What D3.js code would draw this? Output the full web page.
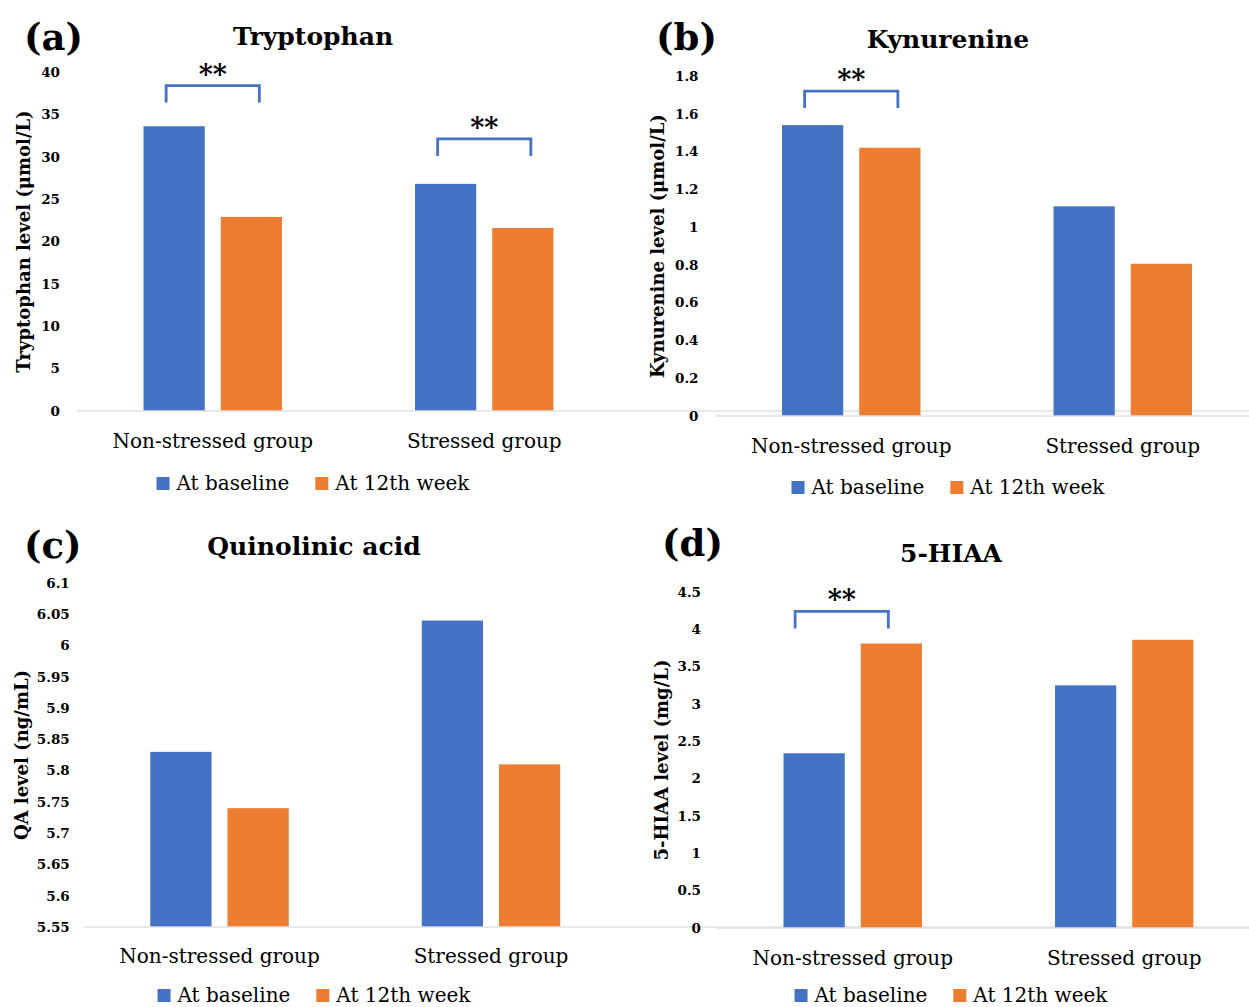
<!DOCTYPE html>
<html>
<head>
<meta charset="utf-8">
<script src="https://cdn.jsdelivr.net/npm/d3@7"></script>
<style>
  body { margin: 0; background: #fff; }
  text { font-family: "DejaVu Serif", serif; fill: #000; }
</style>
</head>
<body>
<svg id="chart"></svg>
<script>
// groups and series
const groups = ["Non-stressed group", "Stressed group"]
const seriesNames = ["At baseline", "At 12th week"]
const seriesColors = ["#4472C4", "#ED7D31"]

// (a) tryptophan, umol/L
const tryptophanBaseline = [33.6, 26.8]
const tryptophanWeek12 = [22.9, 21.6]
const tryptophanTicks = [0, 5, 10, 15, 20, 25, 30, 35, 40]

// (b) kynurenine, umol/L
const kynurenineBaseline = [1.54, 1.11]
const kynurenineWeek12 = [1.42, 0.806]
const kynurenineTicks = [0, 0.2, 0.4, 0.6, 0.8, 1, 1.2, 1.4, 1.6, 1.8]

// (c) quinolinic acid, ng/mL
const qaBaseline = [5.83, 6.04]
const qaWeek12 = [5.74, 5.81]
const qaTicks = [5.55, 5.6, 5.65, 5.7, 5.75, 5.8, 5.85, 5.9, 5.95, 6, 6.05, 6.1]

// (d) 5-HIAA, mg/L
const hiaaBaseline = [2.34, 3.25]
const hiaaWeek12 = [3.81, 3.86]
const hiaaTicks = [0, 0.5, 1, 1.5, 2, 2.5, 3, 3.5, 4, 4.5]

// significance brackets: group index and value of bracket top
const tryptophanSig = [{group: 0, top: 38.4, label: "**"}, {group: 1, top: 32.1, label: "**"}]
const kynurenineSig = [{group: 0, top: 1.72, label: "**"}]
const hiaaSig = [{group: 0, top: 4.24, label: "**"}]


const svg = d3.select("#chart")
    .attr("width", 1249)
    .attr("height", 1007)

svg.append("rect").attr("width", 1249).attr("height", 1007).attr("fill", "#fff")

function drawPanel(cfg){

    const g = svg.append("g")

    const x0 = d3.scaleBand()
        .domain(groups)
        .range([cfg.left, cfg.left + 543])
        .paddingInner(0.49)
        .paddingOuter(0.245)

    const x1 = d3.scaleBand()
        .domain(seriesNames)
        .range([0, x0.bandwidth()])
        .paddingInner(0.207)

    const y = d3.scaleLinear()
        .domain([cfg.ticks[0], cfg.ticks[cfg.ticks.length-1]])
        .range([cfg.bottom, cfg.top])

    // panel letter and title
    g.append("text")
        .attr("x", cfg.letterX)
        .attr("y", cfg.letterY)
        .attr("font-size", 37)
        .attr("font-weight", "bold")
        .text(cfg.letter)

    g.append("text")
        .attr("x", cfg.cx)
        .attr("y", cfg.titleY)
        .attr("text-anchor", "middle")
        .attr("font-size", 25)
        .attr("font-weight", "bold")
        .text(cfg.title)

    // y axis, labels only
    const yAxis = g.append("g")
        .attr("transform", `translate(${cfg.left},0)`)
        .call(d3.axisLeft(y).tickValues(cfg.ticks).tickSize(0).tickPadding(cfg.tickPad).tickFormat(d => String(d)))
    yAxis.select(".domain").remove()
    yAxis.selectAll("text")
        .attr("font-family", "DejaVu Serif")
        .attr("font-size", 13.5)
        .attr("font-weight", "bold")
        .attr("fill", "#000")

    g.append("text")
        .attr("transform", `translate(${cfg.yTitleX},${(cfg.top + cfg.bottom)/2}) rotate(-90)`)
        .attr("text-anchor", "middle")
        .attr("dy", "0.35em")
        .attr("font-size", 18)
        .attr("font-weight", "bold")
        .text(cfg.yTitle)

    // bars
    const rows = groups.map((grp, i) => ({group: grp, values: [cfg.baseline[i], cfg.week12[i]]}))
    g.selectAll("g.grp")
        .data(rows)
        .enter()
        .append("g")
        .attr("class", "grp")
        .attr("transform", d => `translate(${x0(d.group)},0)`)
        .selectAll("rect")
        .data(d => d.values.map((v, j) => ({series: seriesNames[j], value: v, color: seriesColors[j]})))
        .enter()
        .append("rect")
        .attr("x", d => x1(d.series))
        .attr("width", x1.bandwidth())
        .attr("y", d => y(d.value))
        .attr("height", d => y(cfg.ticks[0]) - y(d.value))
        .attr("fill", d => d.color)

    // baseline
    g.append("line")
        .attr("x1", cfg.left)
        .attr("x2", 1249)
        .attr("y1", y(cfg.ticks[0]))
        .attr("y2", y(cfg.ticks[0]))
        .attr("stroke", "#e0e0e0")
        .attr("stroke-width", 1.5)

    // category labels
    const xAxis = g.append("g")
        .attr("transform", `translate(0,${cfg.bottom})`)
        .call(d3.axisBottom(x0).tickSize(0).tickPadding(cfg.catPad))
    xAxis.select(".domain").remove()
    xAxis.selectAll("text")
        .attr("font-family", "DejaVu Serif")
        .attr("font-size", 20)
        .attr("fill", "#000")

    // significance brackets
    const sigs = cfg.sig || []
    const shift = cfg.sigShift || 0
    sigs.forEach(s => {
        const grp = groups[s.group]
        const xa = x0(grp) + x1(seriesNames[0]) + x1.bandwidth()/2 - 8 + shift
        const xb = x0(grp) + x1(seriesNames[1]) + x1.bandwidth()/2 + 8 + shift
        const yt = y(s.top)
        g.append("path")
            .attr("d", `M${xa},${yt + 17}V${yt}H${xb}V${yt + 17}`)
            .attr("fill", "none")
            .attr("stroke", "#4472C4")
            .attr("stroke-width", 2.8)
        g.append("text")
            .attr("x", (xa + xb)/2)
            .attr("y", yt - 2)
            .attr("text-anchor", "middle")
            .attr("font-size", 27)
            .attr("font-weight", "bold")
            .text(s.label)
    })

    // legend, centred under the title
    const leg = g.append("g")
    let pos = 0
    seriesNames.forEach((name, j) => {
        leg.append("rect")
            .attr("x", pos)
            .attr("y", -6)
            .attr("width", 13)
            .attr("height", 13)
            .attr("fill", seriesColors[j])
        const t = leg.append("text")
            .attr("x", pos + 20)
            .attr("y", 0)
            .attr("dy", "0.35em")
            .attr("font-size", 20)
            .text(name)
        pos = pos + 20 + t.node().getComputedTextLength() + 26
    })
    const legW = pos - 26
    leg.attr("transform", `translate(${cfg.cx - legW/2},${cfg.legendY})`)
}

drawPanel({letter: "(a)", letterX: 24, letterY: 50, title: "Tryptophan", cx: 313, titleY: 45,
    left: 77, top: 72, bottom: 411, ticks: tryptophanTicks, tickPad: 17, catPad: 23,
    yTitle: "Tryptophan level (μmol/L)", yTitleX: 24, legendY: 483,
    baseline: tryptophanBaseline, week12: tryptophanWeek12, sig: tryptophanSig})

drawPanel({letter: "(b)", letterX: 656, letterY: 50, title: "Kynurenine", cx: 948, titleY: 48,
    left: 715.5, top: 76, bottom: 416, ticks: kynurenineTicks, tickPad: 17, catPad: 23,
    yTitle: "Kynurenine level (μmol/L)", yTitleX: 658, legendY: 487,
    baseline: kynurenineBaseline, week12: kynurenineWeek12, sig: kynurenineSig})

drawPanel({letter: "(c)", letterX: 24, letterY: 558, title: "Quinolinic acid", cx: 314, titleY: 555,
    left: 83.75, top: 583, bottom: 927, ticks: qaTicks, tickPad: 14, catPad: 22,
    yTitle: "QA level (ng/mL)", yTitleX: 22, legendY: 995,
    baseline: qaBaseline, week12: qaWeek12, sig: []})

drawPanel({letter: "(d)", letterX: 662, letterY: 556, title: "5-HIAA", cx: 951, titleY: 562,
    left: 717, top: 592, bottom: 928, ticks: hiaaTicks, tickPad: 16, catPad: 23,
    yTitle: "5-HIAA level (mg/L)", yTitleX: 662, legendY: 995,
    baseline: hiaaBaseline, week12: hiaaWeek12, sig: hiaaSig, sigShift: -11})

</script>
</body>
</html>
